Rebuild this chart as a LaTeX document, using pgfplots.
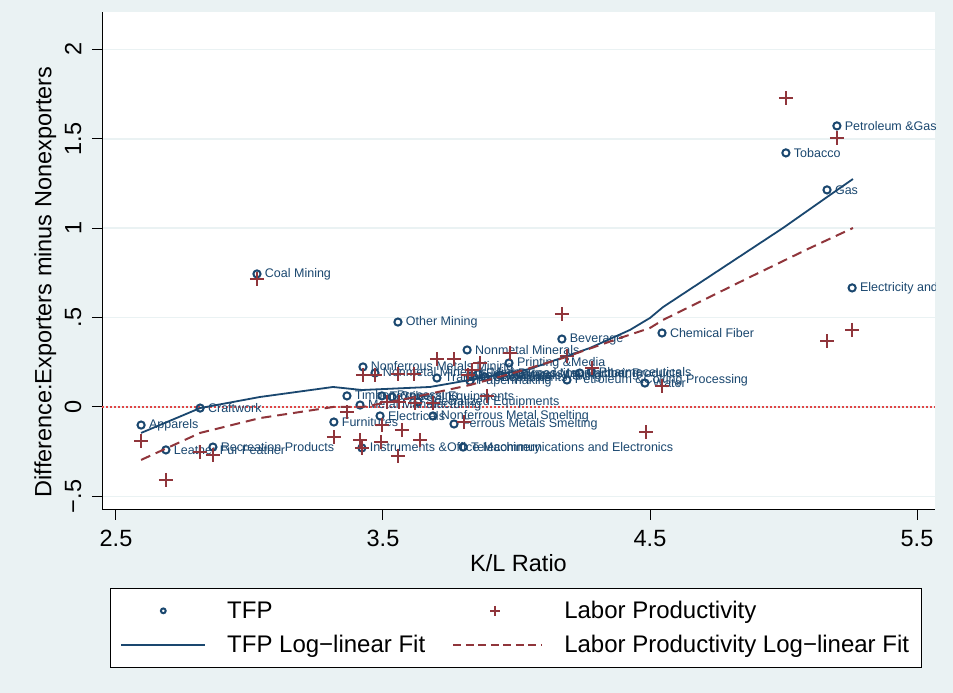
\documentclass[border=0pt]{standalone}
\usepackage{fontspec}
\setmainfont{Liberation Sans}
\usepackage{pgfplots}
\usepackage{pgfplotstable}
\pgfplotsset{compat=1.18}
\definecolor{stnavy}{RGB}{26,71,111}
\definecolor{stmaroon}{RGB}{144,53,59}
\definecolor{stbg}{RGB}{234,242,243}
\definecolor{stgrid}{RGB}{234,242,243}
\definecolor{zerored}{RGB}{225,70,70}

\pgfplotsset{
  leg circ/.style={legend image code/.code={\draw[mark repeat=2,mark phase=2,##1,mark size=2.4pt] plot coordinates {(0pt,0pt)(42pt,0pt)(84pt,0pt)};}},
  leg plus/.style={legend image code/.code={\draw[mark repeat=2,mark phase=2,##1,mark size=5pt] plot coordinates {(0pt,0pt)(42pt,0pt)(84pt,0pt)};}},
  leg solid/.style={legend image code/.code={\draw[##1] (0pt,0pt) -- (84pt,0pt);}},
  leg dash/.style={legend image code/.code={\draw[##1, dash pattern=on 8pt off 4.5pt] (0pt,0pt) -- (89pt,0pt);}},
}

\pgfplotstableread[col sep=comma]{
x,y,label
2.594,-0.101,Apparels
2.687,-0.240,Leather Fur Feather
2.815,-0.006,Craftwork
2.863,-0.224,Recreation Products
3.028,0.744,Coal Mining
3.316,-0.084,Furnitures
3.365,0.062,Timber Processing
3.414,0.011,Metal Manufacturing
3.425,0.224,Nonferrous Metals Mining
3.421,-0.229,Instruments \&Office Machinery
3.470,0.190,Nonmetal Minerals Mining
3.489,-0.050,Electricals
3.556,0.475,Other Mining
3.496,0.062,Textile
3.534,0.056,General Equipments
3.631,0.028,Specialized Equipments
3.702,0.162,Transport Equipments
3.687,-0.050,Nonferrous Metal Smelting
3.766,-0.095,Ferrous Metals Smelting
3.800,-0.224,Telecommunications and Electronics
3.815,0.319,Nonmetal Minerals
3.972,0.246,Printing \&Media
3.826,0.173,Ferrous Metals Mining
3.856,0.185,Food Processing
3.826,0.145,Papermaking
3.882,0.168,Chemicals
3.938,0.179,Plastics
4.013,0.185,Food Manufacturing
4.237,0.190,Rubber Products
4.279,0.196,Pharmaceuticals
4.189,0.151,Petroleum \&Coking Processing
4.170,0.380,Beverage
4.481,0.134,Water
4.545,0.414,Chemical Fiber
5.009,1.421,Tobacco
5.200,1.572,Petroleum \&Gas Extraction
5.163,1.214,Gas
5.257,0.666,Electricity and Steam
}\tfpdata

\pgfplotstableread{
x y
2.594 -0.190
2.687 -0.408
2.815 -0.252
2.863 -0.268
3.028 0.716
3.316 -0.168
3.365 -0.028
3.414 -0.185
3.421 -0.229
3.425 0.179
3.470 0.179
3.556 0.185
3.616 0.185
3.702 0.268
3.766 0.268
3.818 0.179
3.833 0.207
3.863 0.246
3.976 0.302
4.189 0.285
4.170 0.520
4.283 0.218
4.545 0.117
4.485 -0.140
5.009 1.728
5.200 1.504
5.163 0.369
5.257 0.431
3.515 0.028
3.560 0.028
3.620 0.022
3.687 0.022
3.890 0.062
3.496 -0.101
3.571 -0.129
3.493 -0.196
3.639 -0.185
3.556 -0.274
3.803 -0.084
}\labdata

\pgfplotstableread{
x y
2.594 -0.145
2.815 -0.006
3.039 0.056
3.313 0.112
3.421 0.095
3.676 0.112
3.826 0.151
4.051 0.213
4.275 0.330
4.425 0.431
4.500 0.498
4.549 0.559
4.998 1.001
5.163 1.174
5.260 1.275
}\tfpfit

\pgfplotstableread{
x y
2.594 -0.296
2.815 -0.145
3.039 -0.062
3.313 0.000
3.425 0.000
3.601 0.050
3.826 0.123
4.002 0.196
4.174 0.274
4.388 0.386
4.500 0.442
4.549 0.487
4.875 0.727
5.099 0.889
5.260 1.001
}\labfit

\begin{document}
\begin{tikzpicture}
\useasboundingbox (0,0) rectangle (953pt,693pt);
\fill[stbg] (0,0) rectangle (953pt,693pt);
\begin{axis}[
  at={(102pt,183pt)}, anchor=south west,
  scale only axis, width=833pt, height=498pt,
  xmin=2.4476, xmax=5.5674, ymin=-0.576, ymax=2.209,
  axis x line*=bottom, axis y line*=left,
  axis line style={line width=1pt, black, -},
  axis background/.style={fill=white},
  tick align=outside, major tick length=10pt,
  tick style={line width=1pt, black},
  xtick={2.5,3.5,4.5,5.5}, xticklabels={2.5,3.5,4.5,5.5},
  ytick={-0.5,0,0.5,1,1.5,2}, yticklabels={−.5,0,.5,1,1.5,2},
  ymajorgrids, major grid style={stgrid, line width=1.5pt},
  ticklabel style={font=\fontsize{23.5}{23.5}\selectfont},
  yticklabel style={rotate=90, anchor=south},
  yticklabel shift=7pt, xticklabel shift=7pt,
  xlabel={K/L Ratio}, ylabel={Difference:Exporters minus Nonexporters},
  label style={font=\fontsize{23.5}{23.5}\selectfont},
  xlabel style={at={(axis description cs:0.5,-0.106)}, anchor=center},
  ylabel style={at={(axis description cs:-0.068,0.458)}, anchor=center},
  clip marker paths=true,
  legend columns=2, legend cell align=left,
  legend style={at={(axis description cs:0.0096,-0.1566)}, anchor=north west,
    draw=black, line width=0.8pt, fill=white,
    font=\fontsize{24}{24}\selectfont,
    inner xsep=10pt, inner ysep=11pt, row sep=11pt,
    nodes={inner sep=2pt},
    /tikz/every odd column/.append style={column sep=19pt},
    /tikz/every even column/.append style={column sep=25pt}},
]
\addplot[forget plot, zerored, line width=1.5pt, dash pattern=on 1.5pt off 2.5pt] coordinates {(2.4476,0) (5.5674,0)};
\addplot[only marks, mark=o, mark size=3.6pt, mark options={line width=2pt, stnavy}, stnavy,
  nodes near coords, point meta=explicit symbolic,
  nodes near coords style={anchor=west, xshift=5pt, font=\fontsize{12.5}{12.5}\selectfont, text=stnavy, inner sep=2pt},
  leg circ]
  table[x=x, y=y, meta=label] {\tfpdata};
\addlegendentry{TFP}
\addplot[only marks, mark=+, mark size=7pt, mark options={line width=2pt, stmaroon}, stmaroon, leg plus]
  table[x=x, y=y] {\labdata};
\addlegendentry{Labor Productivity}
\addplot[no marks, stnavy, line width=1.8pt, leg solid]
  table[x=x, y=y] {\tfpfit};
\addlegendentry{TFP Log−linear Fit}
\addplot[no marks, stmaroon, line width=2pt, dash pattern=on 10pt off 6pt, leg dash]
  table[x=x, y=y] {\labfit};
\addlegendentry{Labor Productivity Log−linear Fit}
\end{axis}
\end{tikzpicture}
\end{document}
